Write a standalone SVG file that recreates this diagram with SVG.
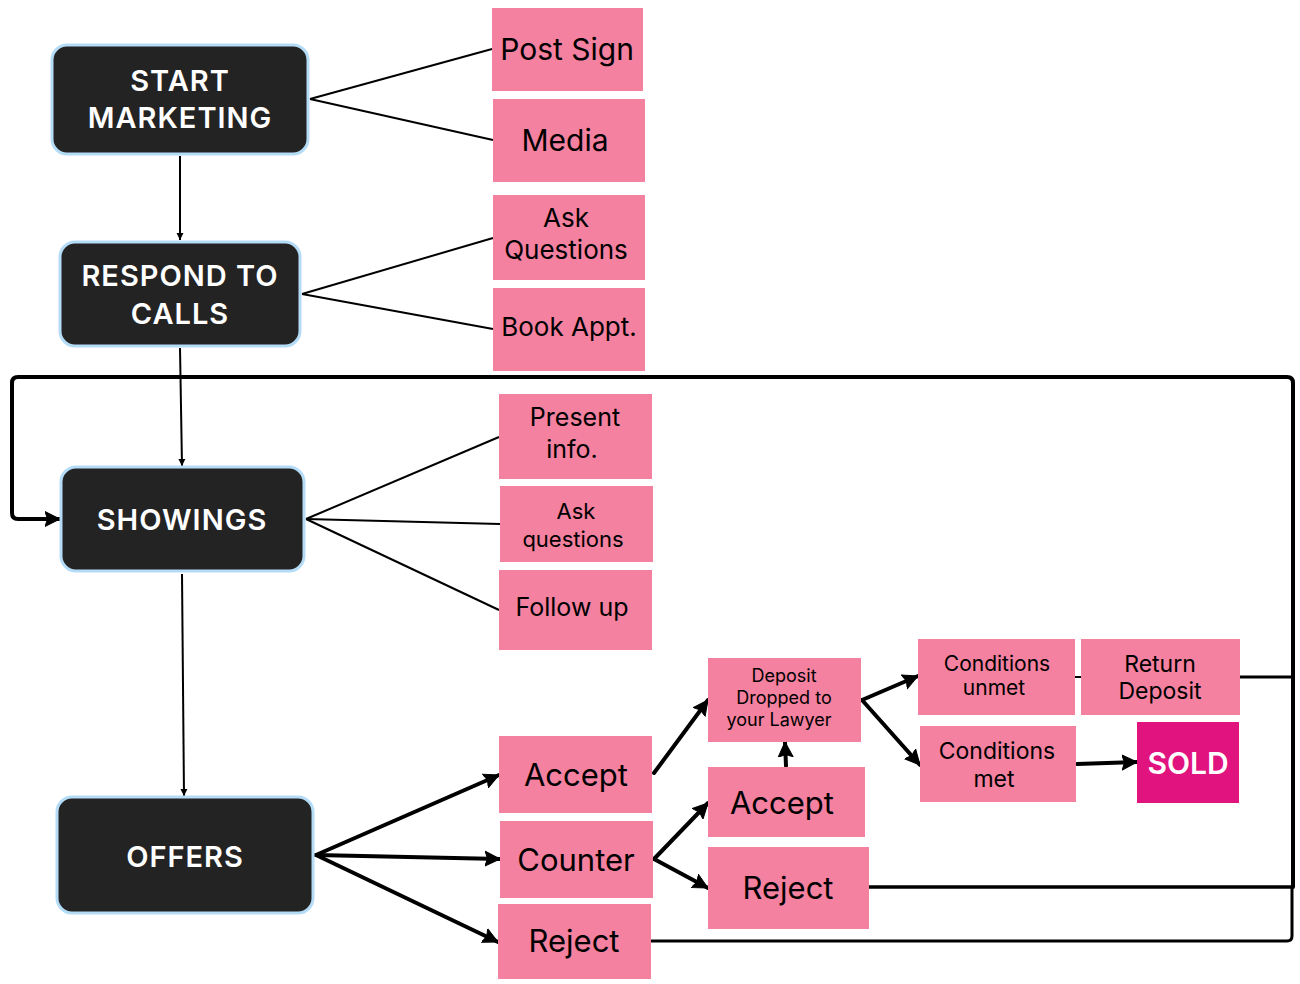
<svg xmlns="http://www.w3.org/2000/svg" width="1300" height="984" viewBox="0 0 1300 984">
<defs>
<style>
.dark{fill:#232323;stroke:#b5dcf6;stroke-width:3}
.pink{fill:#f4819f}
.sold{fill:#e0137f}
.dt{font-family:Inter,"Liberation Sans",sans-serif;font-weight:600;fill:#ffffff;text-anchor:middle}
.pt{font-family:Inter,"Liberation Sans",sans-serif;font-weight:400;fill:#000000;text-anchor:middle}
.thin{stroke:#000;stroke-width:2;fill:none}
.thick{stroke:#000;stroke-width:4;fill:none;stroke-linecap:round;stroke-linejoin:round}
</style>
<marker id="ah" markerUnits="userSpaceOnUse" markerWidth="9" markerHeight="9" refX="7" refY="4.5" orient="auto"><path d="M0,1 L7,4.5 L0,8 z" fill="#000"/></marker>
<marker id="AH" markerUnits="userSpaceOnUse" markerWidth="18" markerHeight="18" refX="15" refY="9" orient="auto"><path d="M0,1.5 L15,9 L0,16.5 L2.5,9 z" fill="#000" stroke="#000" stroke-width="1" stroke-linejoin="round"/></marker>
</defs>
<rect width="1300" height="984" fill="#ffffff"/>

<g id="connectors">
<line class="thin" x1="310" y1="99" x2="492" y2="49"/>
<line class="thin" x1="310" y1="99" x2="493" y2="140"/>
<line class="thin" x1="302" y1="294" x2="493" y2="238"/>
<line class="thin" x1="302" y1="294" x2="493" y2="329"/>
<line class="thin" x1="306" y1="519" x2="499" y2="437"/>
<line class="thin" x1="306" y1="519" x2="500" y2="524"/>
<line class="thin" x1="306" y1="519" x2="499" y2="610"/>
<line class="thin" x1="180" y1="156" x2="180" y2="240" marker-end="url(#ah)"/>
<line class="thin" x1="180" y1="348" x2="182" y2="466" marker-end="url(#ah)"/>
<line class="thin" x1="182" y1="574" x2="184" y2="796" marker-end="url(#ah)"/>
<line class="thick" x1="316" y1="855" x2="499" y2="775" marker-end="url(#AH)"/>
<line class="thick" x1="316" y1="855" x2="500" y2="859" marker-end="url(#AH)"/>
<line class="thick" x1="316" y1="855" x2="498" y2="942" marker-end="url(#AH)"/>
<line class="thick" x1="654" y1="773" x2="708" y2="700" marker-end="url(#AH)"/>
<line class="thick" x1="654" y1="859" x2="708" y2="803" marker-end="url(#AH)"/>
<line class="thick" x1="654" y1="859" x2="708" y2="888" marker-end="url(#AH)"/>
<line class="thick" x1="786" y1="766" x2="785" y2="742" marker-end="url(#AH)"/>
<line class="thick" x1="862" y1="700" x2="918" y2="676" marker-end="url(#AH)"/>
<line class="thick" x1="862" y1="700" x2="920" y2="765" marker-end="url(#AH)"/>
<line class="thick" x1="1077" y1="764" x2="1137" y2="762" marker-end="url(#AH)"/>
<line class="thin" x1="1075" y1="677" x2="1081" y2="677"/>
<line x1="1240" y1="677" x2="1292" y2="677" stroke="#000" stroke-width="3"/>
<path class="thick" d="M1293,887 V383 Q1293,377 1287,377 H18 Q12,377 12,383 V513 Q12,519 18,519 H60" stroke-width="5" marker-end="url(#AH)"/>
<line x1="869" y1="887" x2="1293" y2="887" stroke="#000" stroke-width="3.5"/>
<path d="M651,941 H1287 Q1292,941 1292,936 V887" stroke="#000" stroke-width="3" fill="none"/>
</g>

<g id="start-marketing"><rect class="dark" x="52" y="45" width="256" height="109" rx="15"/>
<text class="dt" x="180" y="91" font-size="29" letter-spacing="1">START</text>
<text class="dt" x="180" y="128" font-size="29" letter-spacing="1">MARKETING</text></g>
<g id="respond-to-calls"><rect class="dark" x="60" y="242" width="240" height="104" rx="15"/>
<text class="dt" x="180" y="286" font-size="29" letter-spacing="1">RESPOND TO</text>
<text class="dt" x="180" y="324" font-size="29" letter-spacing="1">CALLS</text></g>
<g id="showings"><rect class="dark" x="61" y="467" width="243" height="104" rx="15"/>
<text class="dt" x="182" y="530" font-size="29" letter-spacing="1">SHOWINGS</text></g>
<g id="offers"><rect class="dark" x="57" y="797" width="256" height="116" rx="15"/>
<text class="dt" x="185" y="867" font-size="29" letter-spacing="1">OFFERS</text></g>

<g id="post-sign"><rect class="pink" x="492" y="8" width="151" height="83"/><text class="pt" x="567" y="60" font-size="30">Post Sign</text></g>
<g id="media"><rect class="pink" x="493" y="99" width="152" height="83"/><text class="pt" x="565" y="151" font-size="30">Media</text></g>
<g id="ask-questions-1"><rect class="pink" x="493" y="195" width="152" height="85"/><text class="pt" x="566" y="227" font-size="26">Ask</text><text class="pt" x="566" y="259" font-size="26">Questions</text></g>
<g id="book-appt"><rect class="pink" x="493" y="288" width="152" height="83"/><text class="pt" x="569" y="336" font-size="26">Book Appt.</text></g>

<g id="present-info"><rect class="pink" x="499" y="394" width="153" height="85"/><text class="pt" x="575" y="426" font-size="25">Present</text><text class="pt" x="572" y="458" font-size="25">info.</text></g>
<g id="ask-questions-2"><rect class="pink" x="500" y="486" width="153" height="76"/><text class="pt" x="576" y="519" font-size="22">Ask</text><text class="pt" x="573" y="547" font-size="22">questions</text></g>
<g id="follow-up"><rect class="pink" x="499" y="570" width="153" height="80"/><text class="pt" x="572" y="616" font-size="25">Follow up</text></g>

<g id="accept-1"><rect class="pink" x="499" y="736" width="153" height="77"/><text class="pt" x="576" y="786" font-size="31">Accept</text></g>
<g id="counter"><rect class="pink" x="500" y="821" width="153" height="77"/><text class="pt" x="576" y="871" font-size="31">Counter</text></g>
<g id="reject-1"><rect class="pink" x="498" y="904" width="153" height="75"/><text class="pt" x="574" y="952" font-size="31">Reject</text></g>

<g id="accept-2"><rect class="pink" x="708" y="767" width="157" height="70"/><text class="pt" x="782" y="814" font-size="31">Accept</text></g>
<g id="reject-2"><rect class="pink" x="708" y="847" width="161" height="82"/><text class="pt" x="788" y="899" font-size="31">Reject</text></g>

<g id="deposit"><rect class="pink" x="708" y="658" width="153" height="84"/><text class="pt" x="784" y="682" font-size="18">Deposit</text><text class="pt" x="784" y="704" font-size="18">Dropped to</text><text class="pt" x="779" y="726" font-size="18">your Lawyer</text></g>
<g id="conditions-unmet"><rect class="pink" x="918" y="639" width="157" height="76"/><text class="pt" x="997" y="671" font-size="21">Conditions</text><text class="pt" x="994" y="695" font-size="21">unmet</text></g>
<g id="return-deposit"><rect class="pink" x="1081" y="639" width="159" height="76"/><text class="pt" x="1160" y="672" font-size="23">Return</text><text class="pt" x="1160" y="699" font-size="23">Deposit</text></g>
<g id="conditions-met"><rect class="pink" x="920" y="726" width="156" height="76"/><text class="pt" x="997" y="759" font-size="23">Conditions</text><text class="pt" x="994" y="787" font-size="23">met</text></g>
<g id="sold"><rect class="sold" x="1137" y="722" width="102" height="81"/><text class="dt" x="1188" y="774" font-size="30">SOLD</text></g>
</svg>
